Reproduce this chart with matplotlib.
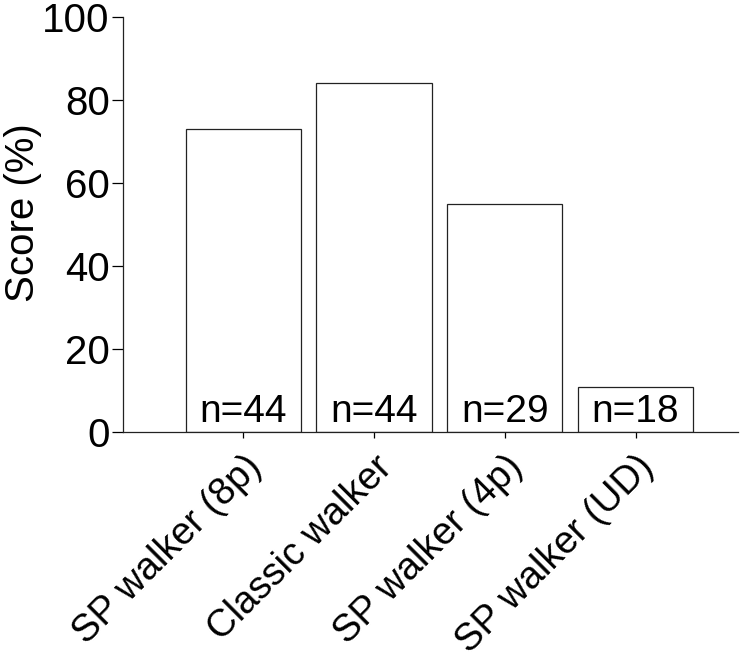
import matplotlib
matplotlib.use("Agg")
import matplotlib.pyplot as plt
from matplotlib.transforms import ScaledTranslation

plt.rcParams["font.family"] = ["Liberation Sans", "DejaVu Sans"]

categories = ["SP walker (8p)", "Classic walker", "SP walker (4p)", "SP walker (UD)"]
scores = [73, 84, 55, 11]
n_labels = ["n=44", "n=44", "n=29", "n=18"]

fig = plt.figure(figsize=(7.45, 6.55), dpi=100)
ax = fig.add_axes([0.165, 0.34, 0.825, 0.634])

x = list(range(len(categories)))
ax.bar(x, scores, width=0.88, color="white", edgecolor="#222222", linewidth=0.9)

for xi, lab in zip(x, n_labels):
    ax.text(xi, 0.6, lab, ha="center", va="bottom", fontsize=28, color="black")

ax.set_xlim(-0.92, 3.78)
ax.set_ylim(0, 100)
ax.set_yticks([0, 20, 40, 60, 80, 100])
ax.set_xticks(x)
ax.set_xticklabels(categories, rotation=45, ha="right", rotation_mode="anchor",
                   fontsize=27.5)
shift = ScaledTranslation(-6 / 100, 3 / 100, fig.dpi_scale_trans)
for lbl in ax.get_xticklabels():
    lbl.set_transform(lbl.get_transform() + shift)
ax.tick_params(axis="y", direction="out", length=8, width=0.9, labelsize=29, pad=1.5)
ax.tick_params(axis="x", direction="out", length=4, width=0.9, pad=8)
ax.set_ylabel("Score (%)", fontsize=29)
ax.yaxis.label.set_va("center")
ax.yaxis.label.set_ha("center")
ax.yaxis.set_label_coords(-0.163, 0.53)

for side in ["top", "right"]:
    ax.spines[side].set_visible(False)
for side in ["left", "bottom"]:
    ax.spines[side].set_linewidth(0.9)
    ax.spines[side].set_color("#222222")

fig.savefig("out.png", dpi=100)
